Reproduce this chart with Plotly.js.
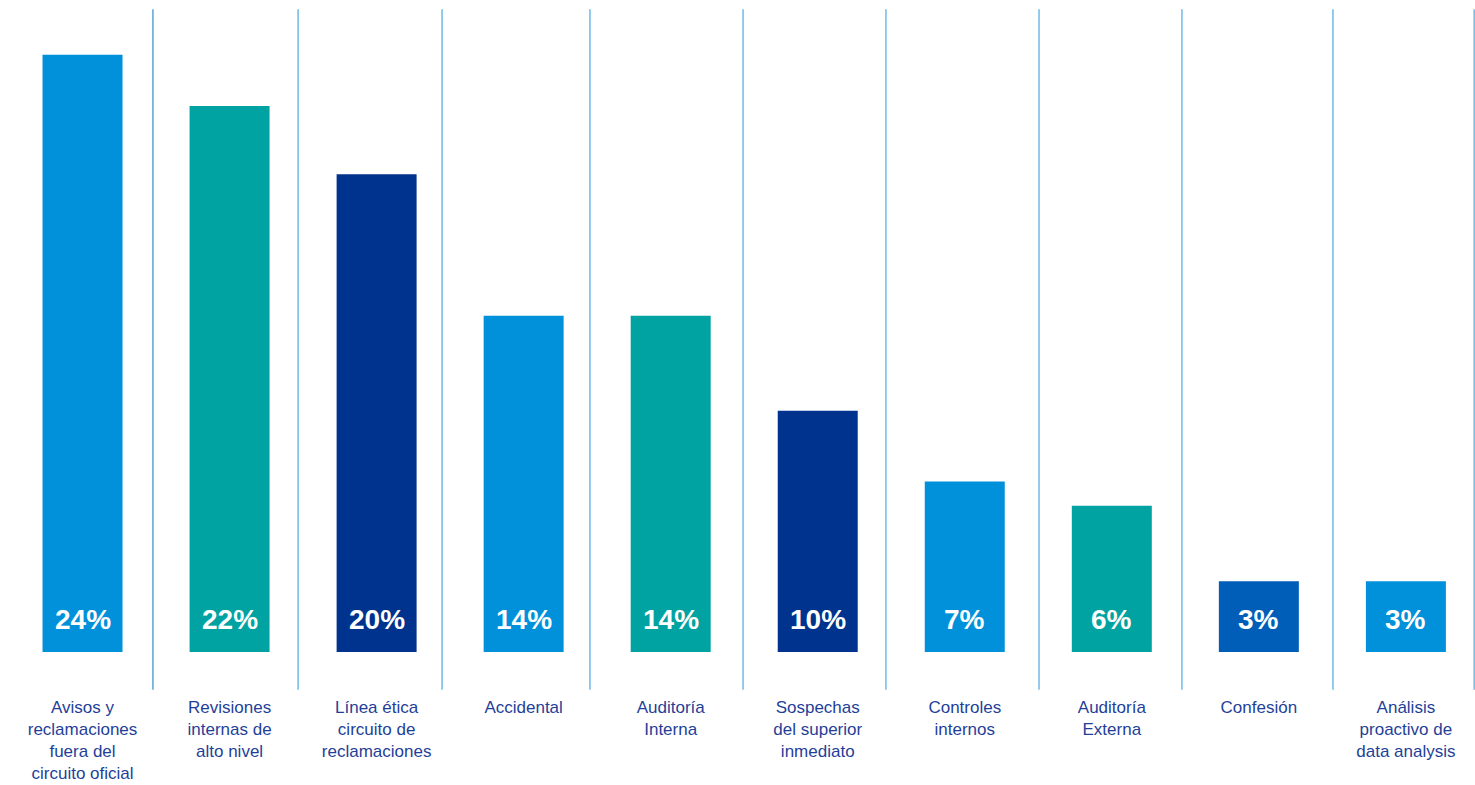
<!DOCTYPE html>
<html>
<head>
<meta charset="utf-8">
<script src="https://cdn.plot.ly/plotly-3.0.1.min.js"></script>
<style>html,body{margin:0;padding:0;background:#fff;}#chart{width:1475px;height:785px;}</style>
</head>
<body>
<div id="chart"></div>
<script>
const categories = [
  "Avisos y<br>reclamaciones<br>fuera del<br>circuito oficial",
  "Revisiones<br>internas de<br>alto nivel",
  "Línea ética<br>circuito de<br>reclamaciones",
  "Accidental",
  "Auditoría<br>Interna",
  "Sospechas<br>del superior<br>inmediato",
  "Controles<br>internos",
  "Auditoría<br>Externa",
  "Confesión",
  "Análisis<br>proactivo de<br>data analysis"
];
const values = [24.5, 22.4, 19.6, 13.8, 13.8, 9.9, 7.0, 6.0, 2.9, 2.9];
const valueLabels = ["24%", "22%", "20%", "14%", "14%", "10%", "7%", "6%", "3%", "3%"];
const barColors = ["#0091DA", "#00A3A1", "#00338D", "#0091DA", "#00A3A1", "#00338D", "#0091DA", "#00A3A1", "#005EB8", "#0091DA"];

const xs = categories.map((c, i) => i);

const trace = {
  type: 'bar',
  x: xs,
  y: values,
  marker: {color: barColors},
  hoverinfo: 'none'
};

const annotations = xs.map((x, i) => ({
  x: x, y: 0, xref: 'x', yref: 'y',
  text: valueLabels[i],
  showarrow: false,
  yanchor: 'middle',
  yshift: 33,
  font: {family: 'Liberation Sans, Arial, sans-serif', size: 28, color: '#ffffff', weight: 'bold'}
}));

// separator positions (layout only), in axis units between categories
const sepPos = [0.479, 1.466, 2.445, 3.451, 4.492, 5.464, 6.505, 7.477, 8.504, 9.464];
const shapes = sepPos.map((xpos, i) => ({
  type: 'line', xref: 'x', yref: 'paper',
  x0: xpos, x1: xpos, y0: -0.058, y1: 0.986,
  line: {color: i === 0 ? '#2A8FD0' : '#4BA8E0', width: 1.2}
}));

const layout = {
  width: 1475, height: 785,
  margin: {l: 9, r: 0, t: 0, b: 133},
  paper_bgcolor: '#ffffff',
  plot_bgcolor: '#ffffff',
  showlegend: false,
  bargap: 0.456,
  xaxis: {
    type: 'linear',
    range: [-0.5, 9.47],
    tickmode: 'array',
    tickvals: xs,
    ticktext: categories,
    showgrid: false, zeroline: false, showline: false,
    ticks: '',
    ticklabelstandoff: 43,
    tickfont: {family: 'Liberation Sans, Arial, sans-serif', size: 17, color: '#1F3F99'}
  },
  yaxis: {
    range: [0, 26.75],
    showgrid: false, zeroline: false, showline: false,
    showticklabels: false, ticks: ''
  },
  shapes: shapes,
  annotations: annotations
};

Plotly.newPlot('chart', [trace], layout, {displayModeBar: false, staticPlot: true});
</script>
</body>
</html>
